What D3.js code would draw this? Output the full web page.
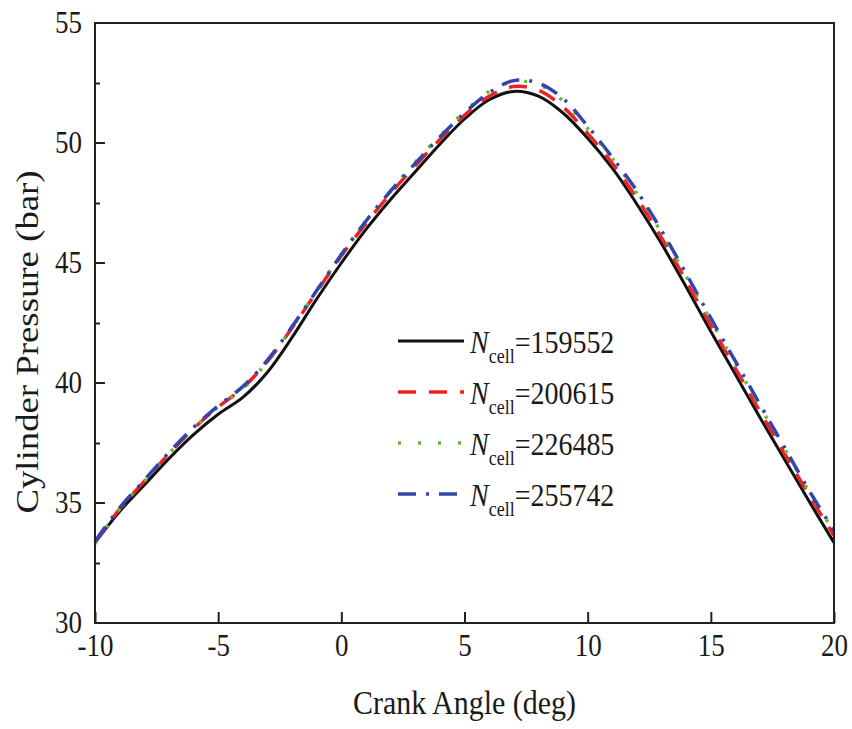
<!DOCTYPE html>
<html>
<head>
<meta charset="utf-8">
<script src="https://cdn.jsdelivr.net/npm/d3@7"></script>
<style>
  body { margin: 0; background: #fff; }
  svg text { font-family: "Liberation Serif", "Times New Roman", serif; fill: #1a1a1a; }
</style>
</head>
<body>
<svg id="chart" width="852" height="729"></svg>
<script>
  // crank angle samples (deg)
  const crankAngle = [-10, -9, -8, -7, -6, -5, -4, -3, -2, -1, 0, 1, 2, 3, 4, 5,
    6, 7, 8, 9, 10, 11, 12, 13, 14, 15, 16, 17, 18, 19, 20];

  // cylinder pressure (bar) per mesh size
  const p159552 = [33.35, 34.65, 35.75, 36.85, 37.85, 38.7, 39.4, 40.45, 41.9, 43.5, 45.0,
    46.4, 47.65, 48.8, 49.95, 51.0, 51.8, 52.15, 51.95, 51.25, 50.2, 48.95, 47.45, 45.8,
    44.0, 42.15, 40.35, 38.55, 36.8, 35.05, 33.35];
  const p200615 = [33.35, 34.75, 35.9, 37.05, 38.1, 39.0, 39.8, 40.9, 42.3, 43.8, 45.3,
    46.65, 47.9, 49.05, 50.15, 51.15, 51.95, 52.35, 52.2, 51.5, 50.4, 49.15, 47.7, 46.05,
    44.25, 42.4, 40.6, 38.8, 37.05, 35.3, 33.65];
  const p226485 = [33.3, 34.75, 35.9, 37.05, 38.1, 39.0, 39.75, 40.9, 42.3, 43.85, 45.35,
    46.75, 48.0, 49.2, 50.3, 51.3, 52.15, 52.55, 52.45, 51.75, 50.6, 49.35, 47.9, 46.25,
    44.45, 42.6, 40.8, 39.0, 37.25, 35.45, 33.8];
  const p255742 = [33.4, 34.8, 35.95, 37.1, 38.15, 39.05, 39.85, 40.95, 42.35, 43.85, 45.35,
    46.75, 48.0, 49.15, 50.25, 51.25, 52.1, 52.6, 52.5, 51.85, 50.7, 49.4, 48.0, 46.35,
    44.55, 42.7, 40.9, 39.1, 37.3, 35.5, 33.85];

  const meshSizes = ['159552', '200615', '226485', '255742'];
  const seriesValues = [p159552, p200615, p226485, p255742];

  const xTicks = [-10, -5, 0, 5, 10, 15, 20];
  const yTicks = [30, 35, 40, 45, 50, 55];
  const yMinorTicks = [32.5, 37.5, 42.5, 47.5, 52.5];

  // line styles for each series
  const styles = [
    { color: '#111111', width: 3, dash: null },
    { color: '#ee2222', width: 3.5, dash: '18,13' },
    { color: '#66bb33', width: 3.5, dash: '3,17' },
    { color: '#3344aa', width: 3.5, dash: '18,10,3,10' }
  ];

  const margin = { left: 95, top: 23, right: 834, bottom: 623 };
  // the source image is slightly stretched vertically, text too
  const stretch = 1.15;

  const svg = d3.select('#chart');

  const x = d3.scaleLinear().domain([-10, 20]).range([margin.left, margin.right]);
  const y = d3.scaleLinear().domain([30, 55]).range([margin.bottom, margin.top]);

  // x axis (ticks pointing inward)
  const xAxis = svg.append('g')
    .attr('transform', `translate(0,${margin.bottom})`)
    .call(d3.axisBottom(x).tickValues(xTicks).tickSize(-11).tickFormat(d3.format('d')));
  xAxis.select('.domain').remove();
  xAxis.selectAll('line').attr('stroke', '#222').attr('stroke-width', 2);
  xAxis.selectAll('text')
    .attr('y', 0).attr('dy', 0)
    .attr('transform', `translate(0,33) scale(1,${stretch})`)
    .style('font-size', '27px')
    .text(d => d < 0 ? '-' + Math.abs(d) : d);

  // y axis
  const yAxis = svg.append('g')
    .attr('transform', `translate(${margin.left},0)`)
    .call(d3.axisLeft(y).tickValues(yTicks).tickSize(-10).tickPadding(13));
  yAxis.select('.domain').remove();
  yAxis.selectAll('line').attr('stroke', '#222').attr('stroke-width', 2);
  yAxis.selectAll('text')
    .attr('dy', '0.33em')
    .attr('transform', `scale(1,${stretch})`)
    .style('font-size', '27px');
  yAxis.selectAll('.tick')
    .attr('transform', d => `translate(0,${y(d)})`);

  const yMinor = svg.append('g')
    .attr('transform', `translate(${margin.left},0)`)
    .call(d3.axisLeft(y).tickValues(yMinorTicks).tickSize(-5).tickFormat(''));
  yMinor.select('.domain').remove();
  yMinor.selectAll('line').attr('stroke', '#222').attr('stroke-width', 2);

  // curves
  const line = d3.line()
    .x((d, i) => x(crankAngle[i]))
    .y(d => y(d))
    .curve(d3.curveCatmullRom.alpha(0.5));

  const curves = svg.append('g');
  seriesValues.forEach((vals, k) => {
    curves.append('path')
      .datum(vals)
      .attr('d', line)
      .attr('fill', 'none')
      .attr('stroke', styles[k].color)
      .attr('stroke-width', styles[k].width)
      .attr('stroke-dasharray', styles[k].dash);
  });

  // frame
  svg.append('rect')
    .attr('x', margin.left)
    .attr('y', margin.top)
    .attr('width', margin.right - margin.left)
    .attr('height', margin.bottom - margin.top)
    .attr('fill', 'none')
    .attr('stroke', '#222')
    .attr('stroke-width', 2);

  // axis titles
  svg.append('text')
    .attr('transform', `translate(${(margin.left + margin.right) / 2},714) scale(1,${stretch})`)
    .attr('text-anchor', 'middle')
    .style('font-size', '30px')
    .text('Crank Angle (deg)');

  svg.append('text')
    .attr('transform', `translate(38,342) rotate(-90) scale(${stretch},1)`)
    .attr('text-anchor', 'middle')
    .style('font-size', '32px')
    .text('Cylinder Pressure (bar)');

  // legend
  const legend = svg.append('g').attr('transform', 'translate(398,341)');
  meshSizes.forEach((m, k) => {
    const row = legend.append('g').attr('transform', `translate(0,${k * 51})`);
    row.append('line')
      .attr('x1', 0).attr('x2', 66)
      .attr('y1', 0).attr('y2', 0)
      .attr('stroke', styles[k].color)
      .attr('stroke-width', styles[k].width)
      .attr('stroke-dasharray', styles[k].dash);
    const t = row.append('text')
      .attr('transform', `translate(72,12) scale(1,${stretch})`)
      .style('font-size', '28px');
    t.append('tspan').style('font-style', 'italic').text('N');
    t.append('tspan').attr('dy', 9).style('font-size', '18px').text('cell');
    t.append('tspan').attr('dy', -9).text('=' + m);
  });
</script>
</body>
</html>
